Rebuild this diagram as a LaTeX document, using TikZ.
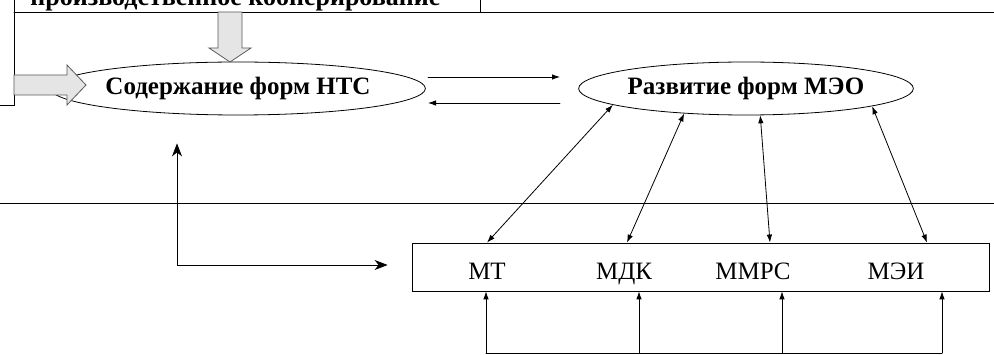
\documentclass[tikz,border=0pt]{standalone}
\usepackage{fontspec}
\setmainfont{Liberation Serif}
\usetikzlibrary{shapes.geometric,arrows.meta}

\begin{document}
\begin{tikzpicture}[x=1pt,y=-1pt,>={Latex[length=8pt,width=5.5pt]},line cap=round,line width=0.8pt,
	oval/.style={ellipse,draw,minimum width=303pt,minimum height=53pt,inner sep=0pt,
		font=\fontsize{25}{28}\selectfont\bfseries},
	bar/.style={rectangle,draw,minimum width=577pt,minimum height=48pt},
	lbl/.style={anchor=base,font=\fontsize{25}{28}\selectfont},
	blockarrow/.style={draw=black!65,fill=black!10,line width=0.8pt,line join=miter}]
	\useasboundingbox (0,0) rectangle (994,355);
	\clip (0,0) rectangle (994,355);
	%frame of the upper level
	\draw (14,0) -- (14,105) -- (0,105);
	\draw (14,12) -- (994,12);
	\draw (480,0) -- (480,12);
	\node[anchor=base west,inner sep=0pt,font=\fontsize{26}{28}\selectfont\bfseries] (coop) at (30,6) {производственное кооперирование};
	\draw (0,203) -- (994,203);
	
	\node[oval] (nts) at (238,88.5) {Содержание форм НТС};
	\node[oval] (meo) at (746,88.5) {Развитие форм МЭО};
	\node[bar] (bar) at (700.5,267) {};
	\foreach \X/\T [count=\Y] in {487/МТ,624/МДК,753/ММРС,896/МЭИ}
	{\node[lbl] (m\Y) at (\X,280) {\T};}
	
	%block arrows
	\coordinate (dtip) at (230,62);
	\draw[blockarrow] (dtip) -- ++(-21,-14) -- ++(9,0) -- ++(0,-36) -- ++(24,0) -- ++(0,36) -- ++(9,0) -- cycle;
	\coordinate (wtip) at (86,85);
	\draw[blockarrow] (wtip) -- ++(-19,-20) -- ++(0,10) -- ++(-53,0) -- ++(0,20) -- ++(53,0) -- ++(0,10) -- cycle;
	
	%between the ovals
	\coordinate (r1) at (428,77);
	\coordinate (r2) at (560,77);
	\coordinate (l1) at (560,103);
	\coordinate (l2) at (428,103);
	\draw[->] (r1) -- (r2);
	\draw[->] (l1) -- (l2);
	
	\foreach \A/\X in {187/487,202/627,298/770,352/927}
	{\draw[<->] (meo.\A) -- (\X,0 |- bar.north);}
	
	%feedback to the left oval
	\coordinate (corner) at (177,265);
	\draw[{Stealth[length=13pt,width=10pt,inset=4pt]}-{Stealth[length=13pt,width=10pt,inset=4pt]},
		shorten <=28pt,shorten >=24pt] (corner |- nts.south) -- (corner) -- (bar.west |- corner);
	
	%lower bus
	\coordinate (busl) at (486,353);
	\coordinate (busr) at (942,353);
	\draw (busl) -- (busr);
	\foreach \X in {486,639,782,942}
	{\draw[->] (\X,353) -- (\X,0 |- bar.south);}
\end{tikzpicture}
\end{document}
